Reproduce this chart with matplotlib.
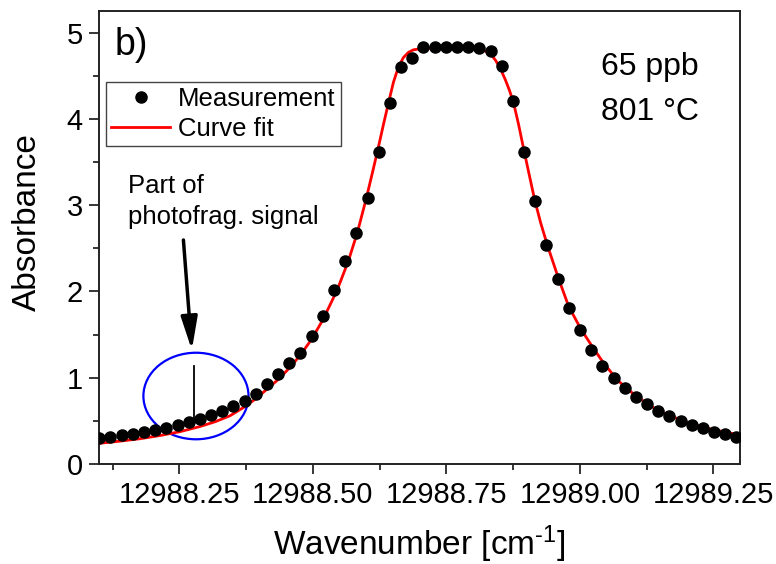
import matplotlib
matplotlib.use('Agg')
import matplotlib.pyplot as plt
from matplotlib.patches import Ellipse
from matplotlib.ticker import MultipleLocator, FormatStrFormatter

plt.rcParams['font.family'] = ['Liberation Sans', 'DejaVu Sans']
plt.rcParams['mathtext.fontset'] = 'custom'
plt.rcParams['mathtext.rm'] = 'Liberation Sans'
plt.rcParams['mathtext.it'] = 'Liberation Sans:italic'
plt.rcParams['mathtext.default'] = 'regular'

# Measured points
wavenumber = [
    12988.1000, 12988.1209, 12988.1419, 12988.1628, 12988.1837, 12988.2047,
    12988.2256, 12988.2466, 12988.2675, 12988.2884, 12988.3094, 12988.3303,
    12988.3512, 12988.3722, 12988.3931, 12988.4140, 12988.4350, 12988.4559,
    12988.4768, 12988.4978, 12988.5187, 12988.5397, 12988.5606, 12988.5815,
    12988.6025, 12988.6234, 12988.6443, 12988.6653, 12988.6862, 12988.7071,
    12988.7281, 12988.7490, 12988.7700, 12988.7909, 12988.8118, 12988.8328,
    12988.8537, 12988.8746, 12988.8956, 12988.9165, 12988.9374, 12988.9584,
    12988.9793, 12989.0002, 12989.0212, 12989.0421, 12989.0631, 12989.0840,
    12989.1049, 12989.1259, 12989.1468, 12989.1677, 12989.1887, 12989.2096,
    12989.2305, 12989.2515, 12989.2724, 12989.2933,
]
measurement = [
    0.298, 0.316, 0.332, 0.348, 0.371, 0.394,
    0.421, 0.448, 0.483, 0.525, 0.568, 0.618,
    0.668, 0.730, 0.815, 0.923, 1.039, 1.165,
    1.283, 1.480, 1.718, 2.016, 2.352, 2.673,
    3.082, 3.619, 4.180, 4.600, 4.710, 4.830,
    4.830, 4.830, 4.830, 4.830, 4.820, 4.790,
    4.615, 4.206, 3.620, 3.045, 2.538, 2.140,
    1.813, 1.553, 1.325, 1.136, 0.993, 0.877,
    0.773, 0.692, 0.618, 0.556, 0.502, 0.452,
    0.413, 0.374, 0.344, 0.313,
]

# Curve fit
fit_wavenumber = [
    12988.1000, 12988.1388, 12988.1763, 12988.2138, 12988.2513, 12988.2888,
    12988.3170, 12988.3451, 12988.3713, 12988.3938, 12988.4145, 12988.4351,
    12988.4557, 12988.4763, 12988.4970, 12988.5195, 12988.5457, 12988.5663,
    12988.5832, 12988.6001, 12988.6132, 12988.6226, 12988.6320, 12988.6414,
    12988.6507, 12988.6601, 12988.6695, 12988.6789, 12988.6882, 12988.7014,
    12988.7389, 12988.7764, 12988.8045, 12988.8176, 12988.8270, 12988.8345,
    12988.8420, 12988.8514, 12988.8607, 12988.8682, 12988.8757, 12988.8851,
    12988.8945, 12988.9039, 12988.9151, 12988.9264, 12988.9395, 12988.9601,
    12988.9789, 12989.0014, 12989.0239, 12989.0446, 12989.0707, 12989.1008,
    12989.1326, 12989.1645, 12989.2020, 12989.2395, 12989.2770, 12989.3014,
]
fit_absorbance = [
    0.240, 0.265, 0.293, 0.330, 0.375, 0.435,
    0.490, 0.560, 0.660, 0.760, 0.870, 0.980,
    1.110, 1.260, 1.440, 1.680, 2.020, 2.350,
    2.680, 3.080, 3.420, 3.670, 3.930, 4.180,
    4.420, 4.600, 4.710, 4.770, 4.800, 4.813,
    4.820, 4.820, 4.815, 4.800, 4.775, 4.740,
    4.680, 4.580, 4.450, 4.330, 4.190, 3.940,
    3.660, 3.390, 3.070, 2.800, 2.530, 2.150,
    1.830, 1.570, 1.355, 1.170, 0.970, 0.810,
    0.670, 0.570, 0.480, 0.413, 0.363, 0.336,
]

x_ticks = [12988.25, 12988.50, 12988.75, 12989.00, 12989.25]
y_ticks = [0, 1, 2, 3, 4, 5]

fig = plt.figure(figsize=(7.76, 5.64), dpi=100)
ax = fig.add_axes([0.1280, 0.1773, 0.8256, 0.8032])

ax.plot(fit_wavenumber, fit_absorbance, color='#ff0000', lw=2.0,
        label='Curve fit', zorder=3)
ax.plot(wavenumber, measurement, 'o', color='black', markersize=8,
        label='Measurement', zorder=4)

ax.set_xlim(12988.10, 12989.30)
ax.set_ylim(0, 5.25)
ax.set_xticks(x_ticks)
ax.set_yticks(y_ticks)
ax.xaxis.set_major_formatter(FormatStrFormatter('%.2f'))
ax.xaxis.set_minor_locator(MultipleLocator(0.125))
ax.yaxis.set_minor_locator(MultipleLocator(0.5))
ax.tick_params(which='both', direction='out', top=False, right=False,
               labelsize=21, width=1.1, color='black')
ax.tick_params(which='major', length=7, pad=5)
ax.tick_params(which='minor', length=4)
for sp in ax.spines.values():
    sp.set_linewidth(1.4)
    sp.set_color('#222222')

ax.set_xlabel(r'Wavenumber [cm$^{\text{-1}}$]', fontsize=24)
ax.set_ylabel('Absorbance', fontsize=24)
ax.xaxis.set_label_coords(0.5, -0.132)
ax.yaxis.set_label_coords(-0.088, 0.535)

handles, labels = ax.get_legend_handles_labels()
leg = ax.legend([handles[1], handles[0]], [labels[1], labels[0]],
                loc='upper left', bbox_to_anchor=(0.0105, 0.844),
                borderaxespad=0, fontsize=18.5, frameon=True, fancybox=False,
                edgecolor='#444444', framealpha=1, numpoints=1,
                handlelength=2.3, handletextpad=0.3, labelspacing=0.25,
                borderpad=0.2)
leg.get_frame().set_linewidth(1.0)

ax.text(0.0245, 0.903, 'b)', transform=ax.transAxes, fontsize=27,
        ha='left', va='baseline')
ax.text(0.8595, 0.8587, '65 ppb', transform=ax.transAxes, fontsize=23,
        ha='center', va='baseline')
ax.text(0.8595, 0.7594, '801 °C', transform=ax.transAxes, fontsize=23,
        ha='center', va='baseline')

ax.text(12988.1544, 3.144, 'Part of', fontsize=18.5, ha='left', va='baseline')
ax.text(12988.1544, 2.78, 'photofrag. signal', fontsize=18.5, ha='left',
        va='baseline')
ax.annotate('', xy=(12988.2733, 1.321), xytext=(12988.2575, 2.596),
            arrowprops=dict(arrowstyle='-|>,head_length=1.0,head_width=0.25',
                            color='black', lw=2.5, mutation_scale=20,
                            shrinkA=0, shrinkB=0), zorder=5)
ax.plot([12988.2766, 12988.2766], [0.51, 1.135], color='black', lw=1.3,
        zorder=5)
ax.add_patch(Ellipse((12988.281, 0.788), width=0.1969, height=1.003,
                     fill=False, edgecolor='#0000ff', lw=1.6, zorder=2))

fig.savefig('out.png', dpi=100)
